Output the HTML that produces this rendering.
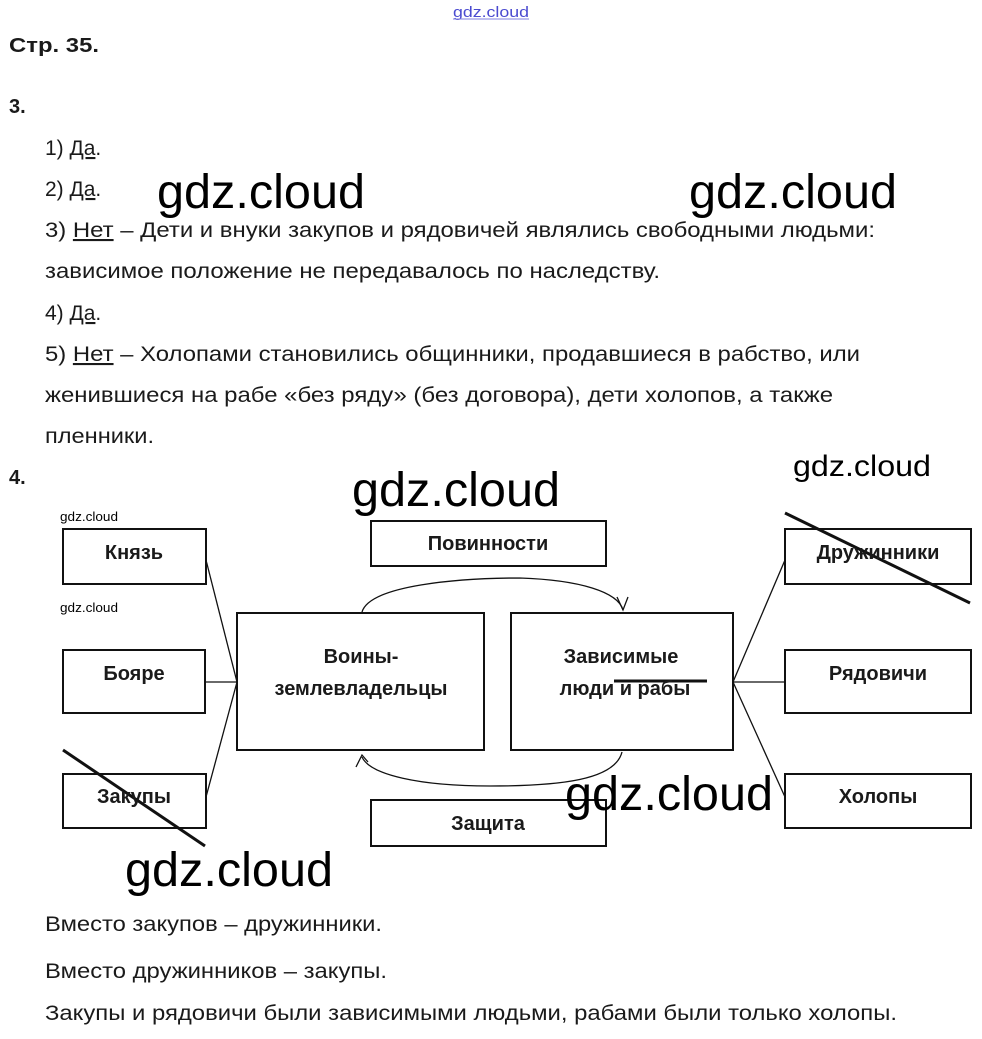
<!DOCTYPE html>
<html><head><meta charset="utf-8"><style>
html,body{margin:0;padding:0;background:#fff;}
svg{display:block}
.t{font-family:"Liberation Sans",Arial,sans-serif;font-size:21px;fill:#1a1a1a}
.b{font-family:"Liberation Sans",Arial,sans-serif;font-size:20px;font-weight:bold;fill:#1a1a1a}
.w{font-family:"Liberation Sans",sans-serif;fill:#000}
</style></head><body>
<svg width="982" height="1039" viewBox="0 0 982 1039" xmlns="http://www.w3.org/2000/svg">
<text x="453" y="17" class="w" font-size="15" style="fill:#4a4ad0" textLength="76" lengthAdjust="spacingAndGlyphs">gdz.cloud</text>
<line x1="453" y1="19" x2="529" y2="19" stroke="#8080e0" stroke-width="1"/>
<text x="9" y="52" class="b" textLength="90" lengthAdjust="spacingAndGlyphs">Стр. 35.</text>
<text x="9" y="113" class="b">3.</text>
<text x="45" y="155" class="t">1) <tspan text-decoration="underline">Да</tspan>.</text>
<text x="45" y="196" class="t">2) <tspan text-decoration="underline">Да</tspan>.</text>
<text x="45" y="237" class="t" textLength="830" lengthAdjust="spacingAndGlyphs">3) <tspan text-decoration="underline">Нет</tspan> – Дети и внуки закупов и рядовичей являлись свободными людьми:</text>
<text x="45" y="278" class="t" textLength="615" lengthAdjust="spacingAndGlyphs">зависимое положение не передавалось по наследству.</text>
<text x="45" y="320" class="t">4) <tspan text-decoration="underline">Да</tspan>.</text>
<text x="45" y="361" class="t" textLength="815" lengthAdjust="spacingAndGlyphs">5) <tspan text-decoration="underline">Нет</tspan> – Холопами становились общинники, продавшиеся в рабство, или</text>
<text x="45" y="402" class="t" textLength="788" lengthAdjust="spacingAndGlyphs">женившиеся на рабе «без ряду» (без договора), дети холопов, а также</text>
<text x="45" y="443" class="t" textLength="109" lengthAdjust="spacingAndGlyphs">пленники.</text>
<text x="9" y="484" class="b">4.</text>

<g fill="none" stroke="#111" stroke-width="2">
<rect x="63" y="529" width="143" height="55"/>
<rect x="63" y="650" width="142" height="63"/>
<rect x="63" y="774" width="143" height="54"/>
<rect x="237" y="613" width="247" height="137"/>
<rect x="511" y="613" width="222" height="137"/>
<rect x="785" y="529" width="186" height="55"/>
<rect x="785" y="650" width="186" height="63"/>
<rect x="785" y="774" width="186" height="54"/>
<rect x="371" y="521" width="235" height="45"/>
<rect x="371" y="800" width="235" height="46"/>
</g>
<g fill="none" stroke="#111" stroke-width="1.3">
<line x1="206" y1="560" x2="237" y2="682"/>
<line x1="205" y1="682" x2="237" y2="682"/>
<line x1="206" y1="797" x2="237" y2="682"/>
<line x1="733" y1="682" x2="785" y2="560"/>
<line x1="733" y1="682" x2="785" y2="682"/>
<line x1="733" y1="682" x2="785" y2="797"/>
<path d="M362 612 C370 585 460 578 520 578 C580 580 618 592 623 610"/>
<path d="M617 597 L623 610 L628 597"/>
<path d="M622 752 C615 780 560 786 490 786 C420 786 370 775 362 757"/>
<path d="M356 767 L362 755 L368 762"/>
</g>
<g stroke="#111" stroke-width="3">
<line x1="63" y1="750" x2="205" y2="846"/>
<line x1="785" y1="513" x2="970" y2="603"/>
<line x1="614" y1="681" x2="707" y2="681"/>
</g>
<g text-anchor="middle">
<text x="134" y="559" class="b">Князь</text>
<text x="134" y="680" class="b">Бояре</text>
<text x="134" y="803" class="b">Закупы</text>
<text x="488" y="550" class="b">Повинности</text>
<text x="488" y="830" class="b">Защита</text>
<text x="361" y="663" class="b">Воины-</text>
<text x="361" y="695" class="b">землевладельцы</text>
<text x="621" y="663" class="b">Зависимые</text>
<text x="625" y="695" class="b">люди и рабы</text>
<text x="878" y="559" class="b">Дружинники</text>
<text x="878" y="680" class="b">Рядовичи</text>
<text x="878" y="803" class="b">Холопы</text>
</g>

<text x="45" y="931" class="t" textLength="337" lengthAdjust="spacingAndGlyphs">Вместо закупов – дружинники.</text>
<text x="45" y="978" class="t" textLength="342" lengthAdjust="spacingAndGlyphs">Вместо дружинников – закупы.</text>
<text x="45" y="1020" class="t" textLength="852" lengthAdjust="spacingAndGlyphs">Закупы и рядовичи были зависимыми людьми, рабами были только холопы.</text>

<g class="w">
<text x="157" y="208" font-size="48" textLength="208" lengthAdjust="spacingAndGlyphs">gdz.cloud</text>
<text x="689" y="208" font-size="48" textLength="208" lengthAdjust="spacingAndGlyphs">gdz.cloud</text>
<text x="352" y="506" font-size="48" textLength="208" lengthAdjust="spacingAndGlyphs">gdz.cloud</text>
<text x="793" y="476" font-size="30" textLength="138" lengthAdjust="spacingAndGlyphs">gdz.cloud</text>
<text x="125" y="886" font-size="48" textLength="208" lengthAdjust="spacingAndGlyphs">gdz.cloud</text>
<text x="565" y="810" font-size="48" textLength="208" lengthAdjust="spacingAndGlyphs">gdz.cloud</text>
<text x="60" y="521" font-size="13" textLength="58" lengthAdjust="spacingAndGlyphs">gdz.cloud</text>
<text x="60" y="612" font-size="13" textLength="58" lengthAdjust="spacingAndGlyphs">gdz.cloud</text>
</g>
</svg>
</body></html>
